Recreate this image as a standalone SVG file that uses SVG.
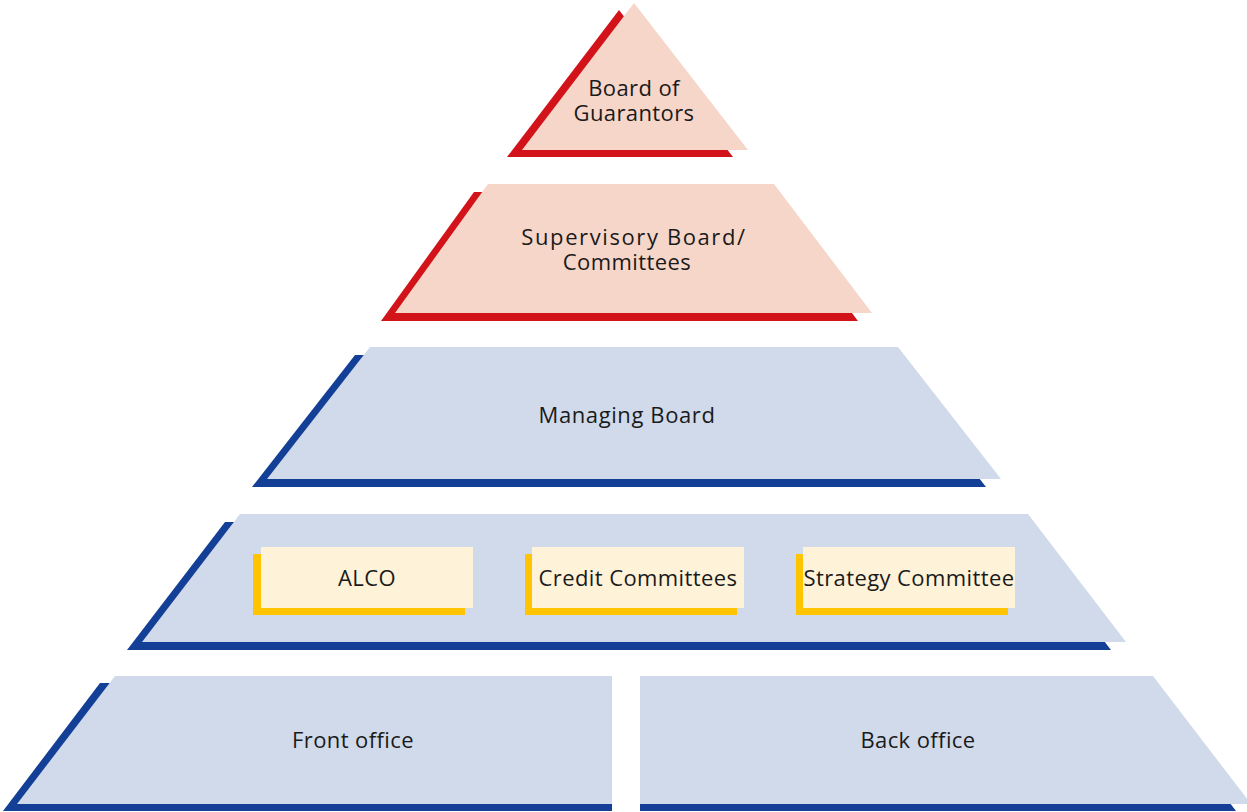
<svg xmlns="http://www.w3.org/2000/svg" width="1247" height="812" viewBox="0 0 1247 812">
<style>
.rs{fill:#D2131A}
.rf{fill:#F7D6CA}
.bs{fill:#143F96}
.bf{fill:#D0DAEA}
.ys{fill:#FFC400}
.yf{fill:#FEF2D8}
text{font-family:"Open Sans","Noto Sans","Liberation Sans",sans-serif;font-size:22px;fill:#1a1a1a;text-anchor:middle;letter-spacing:0.4px}
</style>
<rect width="1247" height="812" fill="#ffffff"/>
<g id="board-of-guarantors">
<polygon class="rs" points="619,10 507,157 733,157"/>
<polygon class="rf" points="634,3 522,150 748,150"/>
<text x="634" y="96">Board of</text>
<text x="634" y="121">Guarantors</text>
</g>
<g id="supervisory-board">
<polygon class="rs" points="474,192 760,192 858,321 381,321"/>
<polygon class="rf" points="488,184 774,184 872,313 395,313"/>
<text x="634" y="245" style="letter-spacing:1.6px">Supervisory Board/</text>
<text x="627" y="270">Committees</text>
</g>
<g id="managing-board">
<polygon class="bs" points="355,355 883,355 986,487 252,487"/>
<polygon class="bf" points="370,347 898,347 1001,479 267,479"/>
<text x="627" y="423" style="letter-spacing:0.6px">Managing Board</text>
</g>
<g id="committees-level">
<polygon class="bs" points="225,522 1013,522 1111,650 127,650"/>
<polygon class="bf" points="240,514 1028,514 1126,642 142,642"/>
</g>
<g id="alco">
<rect class="ys" x="253" y="554" width="212" height="61"/>
<rect class="yf" x="261" y="547" width="212" height="61"/>
<text x="367" y="586">ALCO</text>
</g>
<g id="credit-committees">
<rect class="ys" x="525" y="554" width="212" height="61"/>
<rect class="yf" x="532" y="547" width="212" height="61"/>
<text x="638" y="586">Credit Committees</text>
</g>
<g id="strategy-committee">
<rect class="ys" x="796" y="554" width="212" height="61"/>
<rect class="yf" x="803" y="547" width="212" height="61"/>
<text x="909" y="586">Strategy Committee</text>
</g>
<g id="front-office">
<polygon class="bs" points="100,683 612,683 612,811 3,811"/>
<polygon class="bf" points="115,676 612,676 612,804 17,804"/>
<text x="353" y="748">Front office</text>
</g>
<g id="back-office">
<polygon class="bs" points="640,683 1138,683 1236,811 640,811"/>
<polygon class="bf" points="640,676 1153,676 1251,804 640,804"/>
<text x="918" y="748">Back office</text>
</g>
</svg>
